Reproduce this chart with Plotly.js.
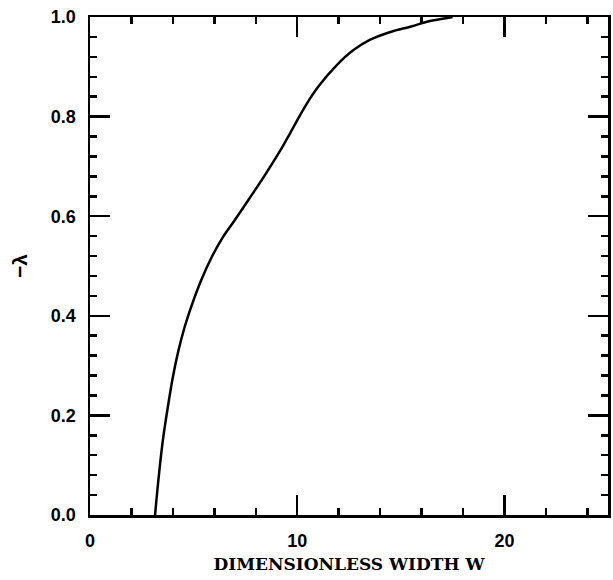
<!DOCTYPE html>
<html>
<head>
<meta charset="utf-8">
<script src="https://cdn.plot.ly/plotly-3.0.1.min.js"></script>
<style>html,body{margin:0;padding:0;background:#fff;}#chart{width:613px;height:580px;}</style>
</head>
<body>
<div id="chart"></div>
<script>
var widthW = [3.14, 3.3, 3.5, 3.75, 4.0, 4.25, 4.55, 4.9, 5.35, 5.9, 6.4, 6.95, 7.7, 8.45, 9.2, 9.65, 10.1, 10.6, 11.05, 11.9, 12.7, 13.5, 14.5, 15.5, 16.4, 17.1, 17.5];
var negLambda = [0, 0.07, 0.145, 0.215, 0.277, 0.327, 0.375, 0.42, 0.47, 0.52, 0.557, 0.59, 0.636, 0.683, 0.733, 0.766, 0.8, 0.835, 0.862, 0.903, 0.933, 0.954, 0.97, 0.981, 0.992, 0.997, 1.0];
var xTitle = 'DIMENSIONLESS WIDTH W';
var yTitle = '\u2212\u03bb';

var trace = {
  x: widthW, y: negLambda, mode: 'lines', type: 'scatter',
  line: {color: '#000', width: 2.5, shape: 'spline', smoothing: 1},
  hoverinfo: 'none'
};
var tickFont = {family: 'Liberation Sans, Arial, sans-serif', size: 18, color: '#000', weight: 'bold'};
var layout = {
  width: 613, height: 580,
  margin: {l: 90, r: 5, t: 17, b: 65},
  paper_bgcolor: '#fff', plot_bgcolor: '#fff',
  showlegend: false,
  xaxis: {
    range: [0, 25], dtick: 10, tick0: 0,
    ticks: 'inside', ticklen: 20, tickwidth: 2.5, tickcolor: '#000',
    showline: true, linewidth: 2.5, linecolor: '#000', mirror: 'ticks',
    showgrid: false, zeroline: false,
    tickfont: tickFont, ticklabelstandoff: 8,
    minor: {dtick: 2, tick0: 0, ticks: 'inside', ticklen: 7, tickwidth: 2.5, tickcolor: '#000', showgrid: false},
    title: {text: xTitle, font: {family: 'DejaVu Serif, serif', size: 17, color: '#000', weight: 'bold'}, standoff: 8}
  },
  yaxis: {
    range: [0, 1], dtick: 0.2, tick0: 0, tickformat: '.1f',
    ticks: 'inside', ticklen: 20, tickwidth: 2.5, tickcolor: '#000',
    showline: true, linewidth: 2.5, linecolor: '#000', mirror: 'ticks',
    showgrid: false, zeroline: false,
    tickfont: tickFont, ticklabelstandoff: 8,
    minor: {dtick: 0.04, tick0: 0, ticks: 'inside', ticklen: 7, tickwidth: 2.5, tickcolor: '#000', showgrid: false},
    title: {text: yTitle, font: {family: 'Liberation Sans, Arial, sans-serif', size: 21, color: '#000', weight: 'bold'}, standoff: 18}
  }
};
Plotly.newPlot('chart', [trace], layout, {staticPlot: true, displayModeBar: false});
</script>
</body>
</html>
